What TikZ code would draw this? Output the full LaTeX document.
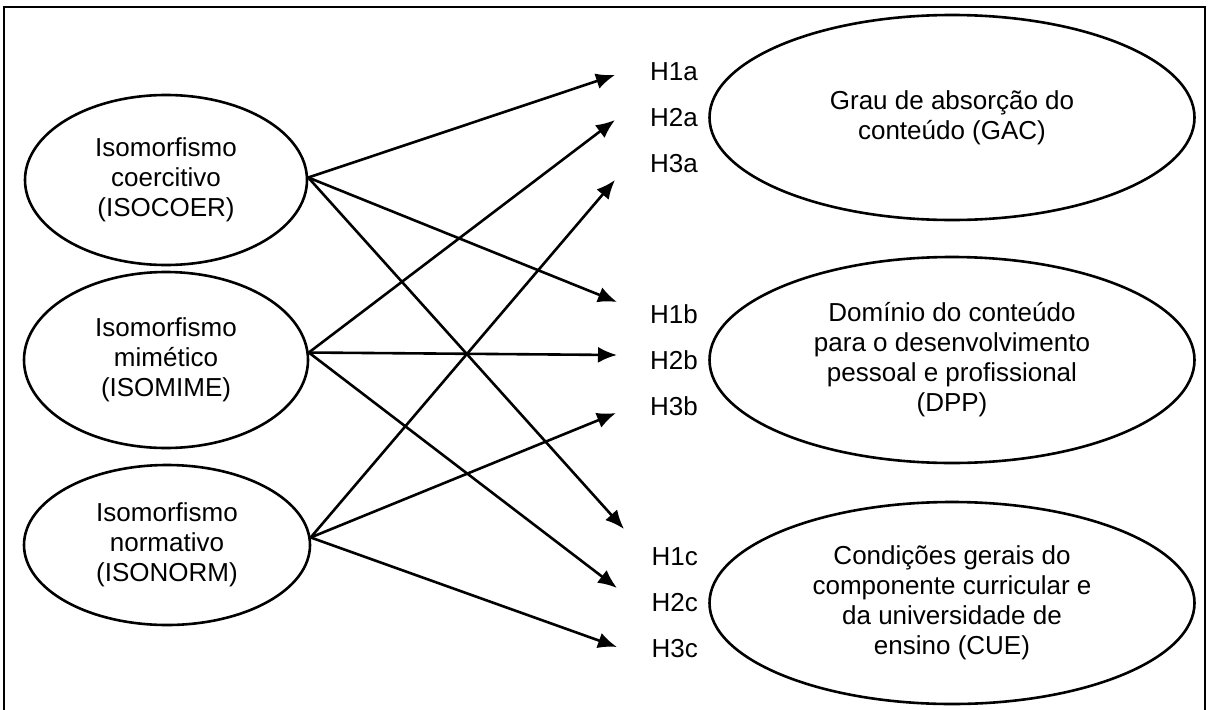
\documentclass[tikz,border=0pt]{standalone}
\usepackage{fontspec}
\setmainfont{Liberation Sans}
\usetikzlibrary{shapes.geometric, positioning, arrows.meta}

\begin{document}
\begin{tikzpicture}[x=0.5pt, y=0.5pt, node distance=23pt,
    construct/.style={draw, ellipse, line width=1.3pt, inner sep=0pt, align=center,
        font=\fontsize{13pt}{15pt}\selectfont},
    hyp/.style={inner sep=0pt, font=\fontsize{13pt}{15pt}\selectfont},
    hypline/.style={-{Latex[length=9.5pt, width=8pt]}, line width=1.3pt}]
    \useasboundingbox (0,0) rectangle (1214,709);
    \draw[line width=1.4pt] (4,-2) -- (4,702) -- (1205,702) -- (1205,-2);

    \node[construct, minimum width=141pt, minimum height=85pt] (coer) at (166,529) {Isomorfismo\\coercitivo\\(ISOCOER)};
    \node[construct, minimum width=142pt, minimum height=88pt] (mime) at (166,349) {Isomorfismo\\mimético\\(ISOMIME)};
    \node[construct, minimum width=143pt, minimum height=80pt] (norm) at (167,164) {Isomorfismo\\normativo\\(ISONORM)};

    \node[construct, minimum width=242.5pt, minimum height=102.5pt] (gac) at (952,591.5) {Grau de absorção do\\conteúdo (GAC)};
    \node[construct, minimum width=242.5pt, minimum height=103pt] (dpp) at (952,349) {Domínio do conteúdo\\para o desenvolvimento\\pessoal e profissional\\(DPP)};
    \node[construct, minimum width=242.5pt, minimum height=101pt] (cue) at (952,106) {Condições gerais do\\componente curricular e\\da universidade de\\ensino (CUE)};

    \node[hyp, left=5pt of gac] (h2a) {H2a};
    \node[hyp, above of=h2a] (h1a) {H1a};
    \node[hyp, below of=h2a] (h3a) {H3a};
    \node[hyp, left=5pt of dpp] (h2b) {H2b};
    \node[hyp, above of=h2b] (h1b) {H1b};
    \node[hyp, below of=h2b] (h3b) {H3b};
    \node[hyp, left=5pt of cue] (h2c) {H2c};
    \node[hyp, above of=h2c] (h1c) {H1c};
    \node[hyp, below of=h2c] (h3c) {H3c};

    % arrow tips in front of the hypotheses
    \coordinate (t1a) at (615,634);
    \coordinate (t2a) at (615,589);
    \coordinate (t3a) at (615,529);
    \coordinate (t1b) at (617,407);
    \coordinate (t2b) at (617,354);
    \coordinate (t3b) at (616,296);
    \coordinate (t1c) at (624,180);
    \coordinate (t2c) at (617,121);
    \coordinate (t3c) at (617,62);

    \path
        (coer.1) edge[hypline] (t1a)
        (coer.1) edge[hypline] (t1b)
        (coer.1) edge[hypline] (t1c)
        (mime.3) edge[hypline] (t2a)
        (mime.3) edge[hypline] (t2b)
        (mime.3) edge[hypline] (t2c)
        (norm.3) edge[hypline] (t3a)
        (norm.3) edge[hypline] (t3b)
        (norm.3) edge[hypline] (t3c)
        ;
\end{tikzpicture}
\end{document}
